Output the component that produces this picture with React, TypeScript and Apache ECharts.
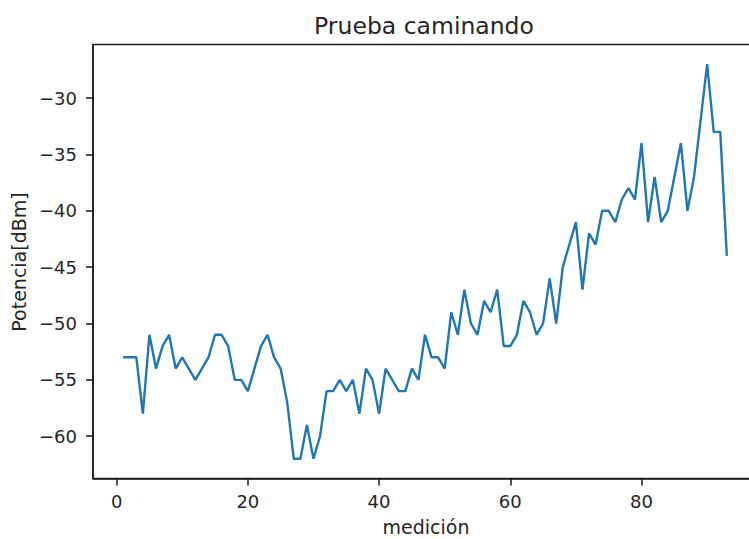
import React, { useEffect, useRef } from "react";
import * as echarts from "echarts";

// Measurement index (1..93) and received power in dBm
const mediciones: number[] = Array.from({ length: 93 }, (_, i) => i + 1);
const potencia: number[] = [
  -53, -53, -53, -58, -51, -54, -52, -51, -54, -53,
  -54, -55, -54, -53, -51, -51, -52, -55, -55, -56,
  -54, -52, -51, -53, -54, -57, -62, -62, -59, -62,
  -60, -56, -56, -55, -56, -55, -58, -54, -55, -58,
  -54, -55, -56, -56, -54, -55, -51, -53, -53, -54,
  -49, -51, -47, -50, -51, -48, -49, -47, -52, -52,
  -51, -48, -49, -51, -50, -46, -50, -45, -43, -41,
  -47, -42, -43, -40, -40, -41, -39, -38, -39, -34,
  -41, -37, -41, -40, -37, -34, -40, -37, -32, -27,
  -33, -33, -44,
];
const xTicks: number[] = [0, 20, 40, 60, 80];
const yTicks: number[] = [-60, -55, -50, -45, -40, -35, -30];

const titleText = "Prueba caminando";
const xLabel = "medición";
const yLabel = "Potencia[dBm]";

const FONT = "DejaVu Sans";
const TEXT = "#262626";
const SPINE = "#1a1a1a";

export default function App() {
  const ref = useRef<HTMLDivElement>(null);

  useEffect(() => {
    if (!ref.current) return;
    const chart = echarts.init(ref.current, null, { renderer: "svg" });

    // 5% margins around the data range on both axes
    const xmin = Math.min(...mediciones), xmax = Math.max(...mediciones);
    const ymin = Math.min(...potencia), ymax = Math.max(...potencia);
    const xm = (xmax - xmin) * 0.05;
    const ym = (ymax - ymin) * 0.05;

    const minus = (v: number) => String(v).replace("-", "\u2212");

    chart.setOption({
      animation: false,
      backgroundColor: "#ffffff",
      grid: {
        left: 93,
        top: 44.5,
        width: 664,
        height: 434,
        outerBoundsMode: "none",
        containLabel: false,
        show: true,
        borderColor: SPINE,
        borderWidth: 1.5,
        backgroundColor: "transparent",
      },
      xAxis: {
        type: "value",
        min: xmin - xm,
        max: xmax + xm,
        axisLine: { show: true, onZero: false, lineStyle: { color: SPINE, width: 1.5 } },
        axisTick: {
          show: true,
          length: 7,
          inside: false,
          customValues: xTicks,
          lineStyle: { color: SPINE, width: 1.5 },
        },
        axisLabel: {
          customValues: xTicks,
          color: TEXT,
          fontFamily: FONT,
          fontSize: 18,
          margin: 14,
          formatter: (v: number) => minus(v),
        },
        splitLine: { show: false },
      },
      yAxis: {
        type: "value",
        min: ymin - ym,
        max: ymax + ym,
        axisLine: { show: true, onZero: false, lineStyle: { color: SPINE, width: 1.5 } },
        axisTick: {
          show: true,
          length: 7,
          inside: false,
          customValues: yTicks,
          lineStyle: { color: SPINE, width: 1.5 },
        },
        axisLabel: {
          customValues: yTicks,
          color: TEXT,
          fontFamily: FONT,
          fontSize: 18,
          margin: 16,
          formatter: (v: number) => minus(v),
        },
        splitLine: { show: false },
      },
      graphic: [
        {
          type: "text",
          x: 424,
          y: 26,
          style: {
            text: titleText,
            font: `23.5px '${FONT}'`,
            fill: TEXT,
            textAlign: "center",
            textVerticalAlign: "middle",
          },
        },
        {
          type: "text",
          x: 426,
          y: 527,
          style: {
            text: xLabel,
            font: `19px '${FONT}'`,
            fill: TEXT,
            textAlign: "center",
            textVerticalAlign: "middle",
          },
        },
        {
          type: "text",
          x: 19,
          y: 262,
          rotation: Math.PI / 2,
          style: {
            text: yLabel,
            font: `19px '${FONT}'`,
            fill: TEXT,
            textAlign: "center",
            textVerticalAlign: "middle",
          },
        },
      ],
      series: [
        {
          type: "line",
          data: mediciones.map((m, i) => [m, potencia[i]]),
          showSymbol: false,
          symbol: "none",
          lineStyle: { color: "#1f77b4", width: 2.4 },
          itemStyle: { color: "#1f77b4" },
        },
      ],
    });

    return () => chart.dispose();
  }, []);

  return (
    <div
      ref={ref}
      style={{ position: "fixed", left: 0, top: 0, width: 749, height: 539 }}
    />
  );
}
